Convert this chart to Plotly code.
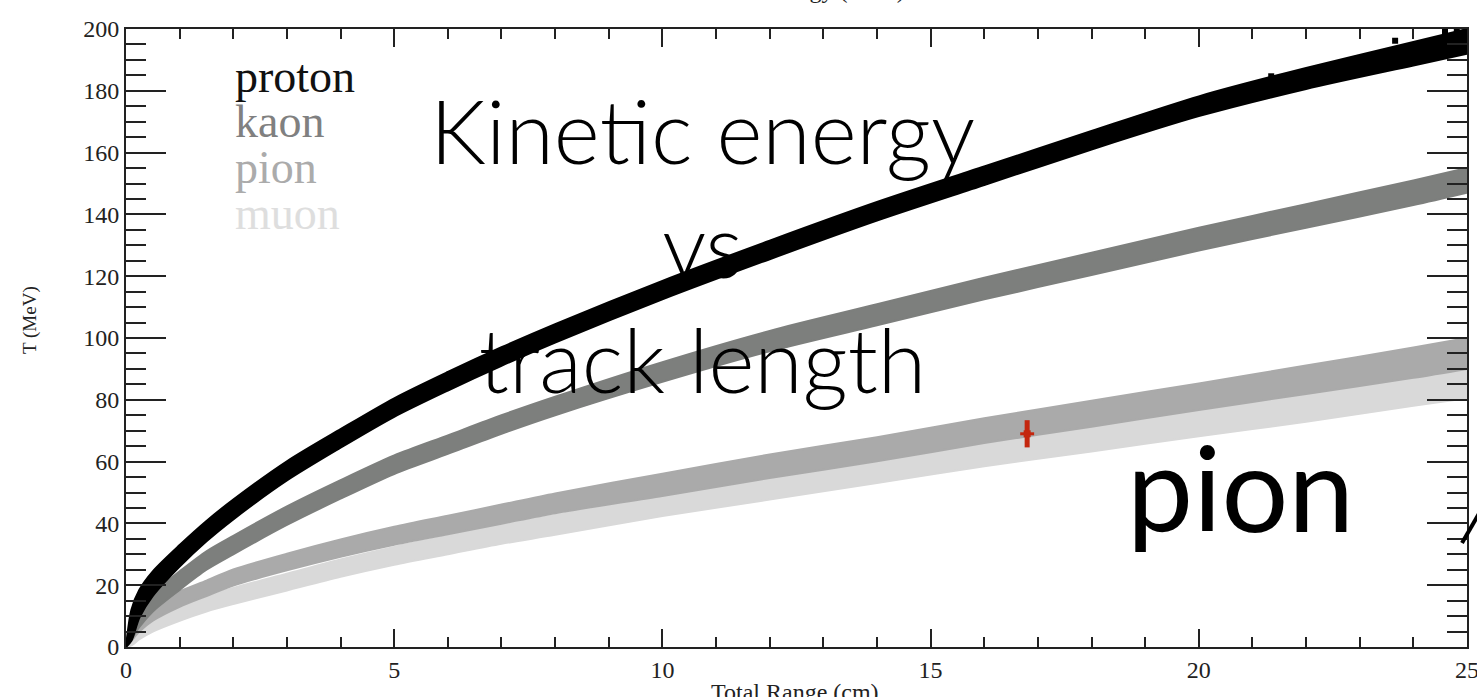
import plotly.graph_objects as go

# Total range grid (cm) at which each band is sampled
range_cm = [0, 0.1, 0.25, 0.5, 1, 1.5, 2, 3, 4, 5, 6, 7, 8, 10, 12, 14, 16, 18, 20, 22, 24, 25]

# Band centre (kinetic energy, MeV) and half-height of each band (MeV)
proton_T = [0, 7, 14, 20.5, 29.5, 37.5, 44.5, 57, 67.5, 77.5, 86, 94, 101.5, 115.5, 128.5, 141, 152.5, 164, 175, 184, 192, 196]
proton_hw = [0, 5, 4.5, 4, 3.5, 3.3, 3.2, 3.1, 3, 3, 3, 3, 3, 3, 3, 3, 3, 3, 3.2, 3.4, 3.8, 4]

kaon_T = [0, 5.5, 9.5, 14.5, 21.5, 28, 33, 42.5, 51, 59, 65.5, 72, 78, 89, 99, 107.5, 116, 124, 132, 139.5, 147, 151]
kaon_hw = [0, 3, 3, 3, 3, 3, 3, 3, 3, 3, 3, 3, 3, 3.2, 3.3, 3.4, 3.5, 3.6, 3.7, 3.8, 4, 4]

pion_T = [0, 4.5, 7.5, 11, 15.5, 19, 22.5, 27.5, 32, 36, 39.5, 43, 46.5, 52.5, 58.5, 64, 70, 75.5, 81, 86.5, 92, 95]
pion_hw = [0, 2.5, 2.5, 2.5, 2.5, 2.5, 2.6, 2.7, 2.8, 2.9, 3, 3.1, 3.2, 3.6, 3.8, 3.9, 4, 4.2, 4.3, 4.6, 4.9, 5]

muon_T = [0, 3, 5, 7.5, 11, 14, 16.5, 21, 25.5, 29.5, 33, 36.5, 39.5, 46, 51.5, 57, 62.5, 67.5, 72.5, 77.5, 83, 85.5]
muon_hw = [0, 2.5, 2.5, 2.5, 2.5, 2.5, 2.6, 2.7, 2.8, 2.9, 3, 3.1, 3.2, 3.6, 3.8, 3.9, 4, 4.2, 4.3, 4.6, 4.9, 5]

# Stray proton entries above the main band
proton_stray_R = [14.27, 15.84, 19.31, 21.35, 21.76, 23.66, 24.09, 24.59, 24.81]
proton_stray_T = [141.2, 152.2, 173.2, 184.7, 184.0, 196.2, 191.6, 199.1, 199.1]

# Measured track with its uncertainty
track_R = [16.8]
track_T = [69.0]
track_dR = [0.13]
track_dT = [4.4]

particles = ["proton", "kaon", "pion", "muon"]
colors = {"proton": "#000000", "kaon": "#7d7f7d", "pion": "#aaaaaa", "muon": "#d9d9d9"}
label_colors = {"proton": "#111111", "kaon": "#808080", "pion": "#ababab", "muon": "#dedede"}

W, H = 1477, 697
L, R, T, B = 126, 1467, 29, 647


def px_x(p):
    return (p - L) / (R - L)


def px_y(p):
    return (B - p) / (B - T)


fig = go.Figure()

bands = {
    "muon": (muon_T, muon_hw),
    "pion": (pion_T, pion_hw),
    "kaon": (kaon_T, kaon_hw),
    "proton": (proton_T, proton_hw),
}
for name in ["muon", "pion", "kaon", "proton"]:
    centre, hw = bands[name]
    lower = [c - h for c, h in zip(centre, hw)]
    upper = [c + h for c, h in zip(centre, hw)]
    col = colors[name]
    fig.add_trace(go.Scatter(x=range_cm, y=lower, mode="lines",
                             line=dict(color=col, width=2, shape="spline", smoothing=0.8),
                             showlegend=False, hoverinfo="skip"))
    fig.add_trace(go.Scatter(x=range_cm, y=upper, mode="lines", fill="tonexty", fillcolor=col,
                             line=dict(color=col, width=2, shape="spline", smoothing=0.8),
                             name=name, showlegend=False))

fig.add_trace(go.Scatter(x=proton_stray_R, y=proton_stray_T, mode="markers",
                         marker=dict(symbol="square", size=6, color="#000000"),
                         showlegend=False))

fig.add_trace(go.Scatter(x=track_R, y=track_T, mode="markers",
                         marker=dict(symbol="square", size=7, color="#c4260e"),
                         error_x=dict(type="data", array=track_dR, color="#c4260e", thickness=3, width=0),
                         error_y=dict(type="data", array=track_dT, color="#c4260e", thickness=5, width=0),
                         showlegend=False))

axis_common = dict(
    showline=True, linecolor="#222222", linewidth=2, mirror="ticks",
    ticks="inside", tickcolor="#222222", tickwidth=2,
    showgrid=False, zeroline=False, automargin=False, ticklabeloverflow="allow",
    tickfont=dict(family="Liberation Serif", size=24, color="#222222"),
)

fig.update_xaxes(range=[0, 25], tick0=0, dtick=5, ticklen=18,
                 minor=dict(ticks="inside", dtick=1, ticklen=10, tickcolor="#222222", tickwidth=2),
                 **axis_common)
fig.update_yaxes(range=[0, 200], tick0=0, dtick=20, ticklen=40,
                 minor=dict(ticks="inside", dtick=5, ticklen=20, tickcolor="#222222", tickwidth=2),
                 **axis_common)

annotations = []

# Particle labels
label_y = {"proton": 76, "kaon": 121, "pion": 167, "muon": 213}
for name in particles:
    annotations.append(dict(
        text=name, x=px_x(233), y=px_y(label_y[name]), xref="paper", yref="paper",
        xanchor="left", yanchor="middle", showarrow=False,
        font=dict(family="Liberation Serif", size=46, color=label_colors[name])))

# Histogram title (runs off the top of the page)
annotations.append(dict(
    text="Kinetic Energy (MeV)", x=px_x(796), y=px_y(5), xref="paper", yref="paper",
    xanchor="center", yanchor="bottom", showarrow=False,
    font=dict(family="Liberation Serif", size=24, color="#222222")))

# Axis titles
annotations.append(dict(
    text="Total Range (cm)", x=px_x(795), y=px_y(677), xref="paper", yref="paper",
    xanchor="center", yanchor="top", showarrow=False,
    font=dict(family="Liberation Serif", size=24, color="#222222")))
annotations.append(dict(
    text="T (MeV)", x=px_x(30), y=px_y(320), xref="paper", yref="paper",
    xanchor="center", yanchor="middle", showarrow=False, textangle=-90,
    font=dict(family="Liberation Serif", size=19, color="#222222")))

# Overlaid slide text
annotations.append(dict(
    text="Kine\u200ctic energy<br>vs<br>track length", x=px_x(702), y=px_y(245),
    xref="paper", yref="paper", xanchor="center", yanchor="middle", align="center",
    showarrow=False, font=dict(family="Lato", size=88, color="#000000", weight=300)))
annotations.append(dict(
    text="pion", x=px_x(1240), y=px_y(486), xref="paper", yref="paper",
    xanchor="center", yanchor="middle", showarrow=False,
    font=dict(family="Lato", size=118, color="#000000")))

fig.update_layout(
    width=W, height=H, autosize=False,
    margin=dict(l=L, r=W - R, t=T, b=H - B, autoexpand=False),
    paper_bgcolor="#ffffff", plot_bgcolor="#ffffff",
    showlegend=False,
    annotations=annotations,
    shapes=[dict(type="line", xref="paper", yref="paper",
                 x0=px_x(1462), y0=px_y(543), x1=px_x(1484), y1=px_y(505),
                 line=dict(color="#000000", width=4))],
)

fig.write_html("out.html")
